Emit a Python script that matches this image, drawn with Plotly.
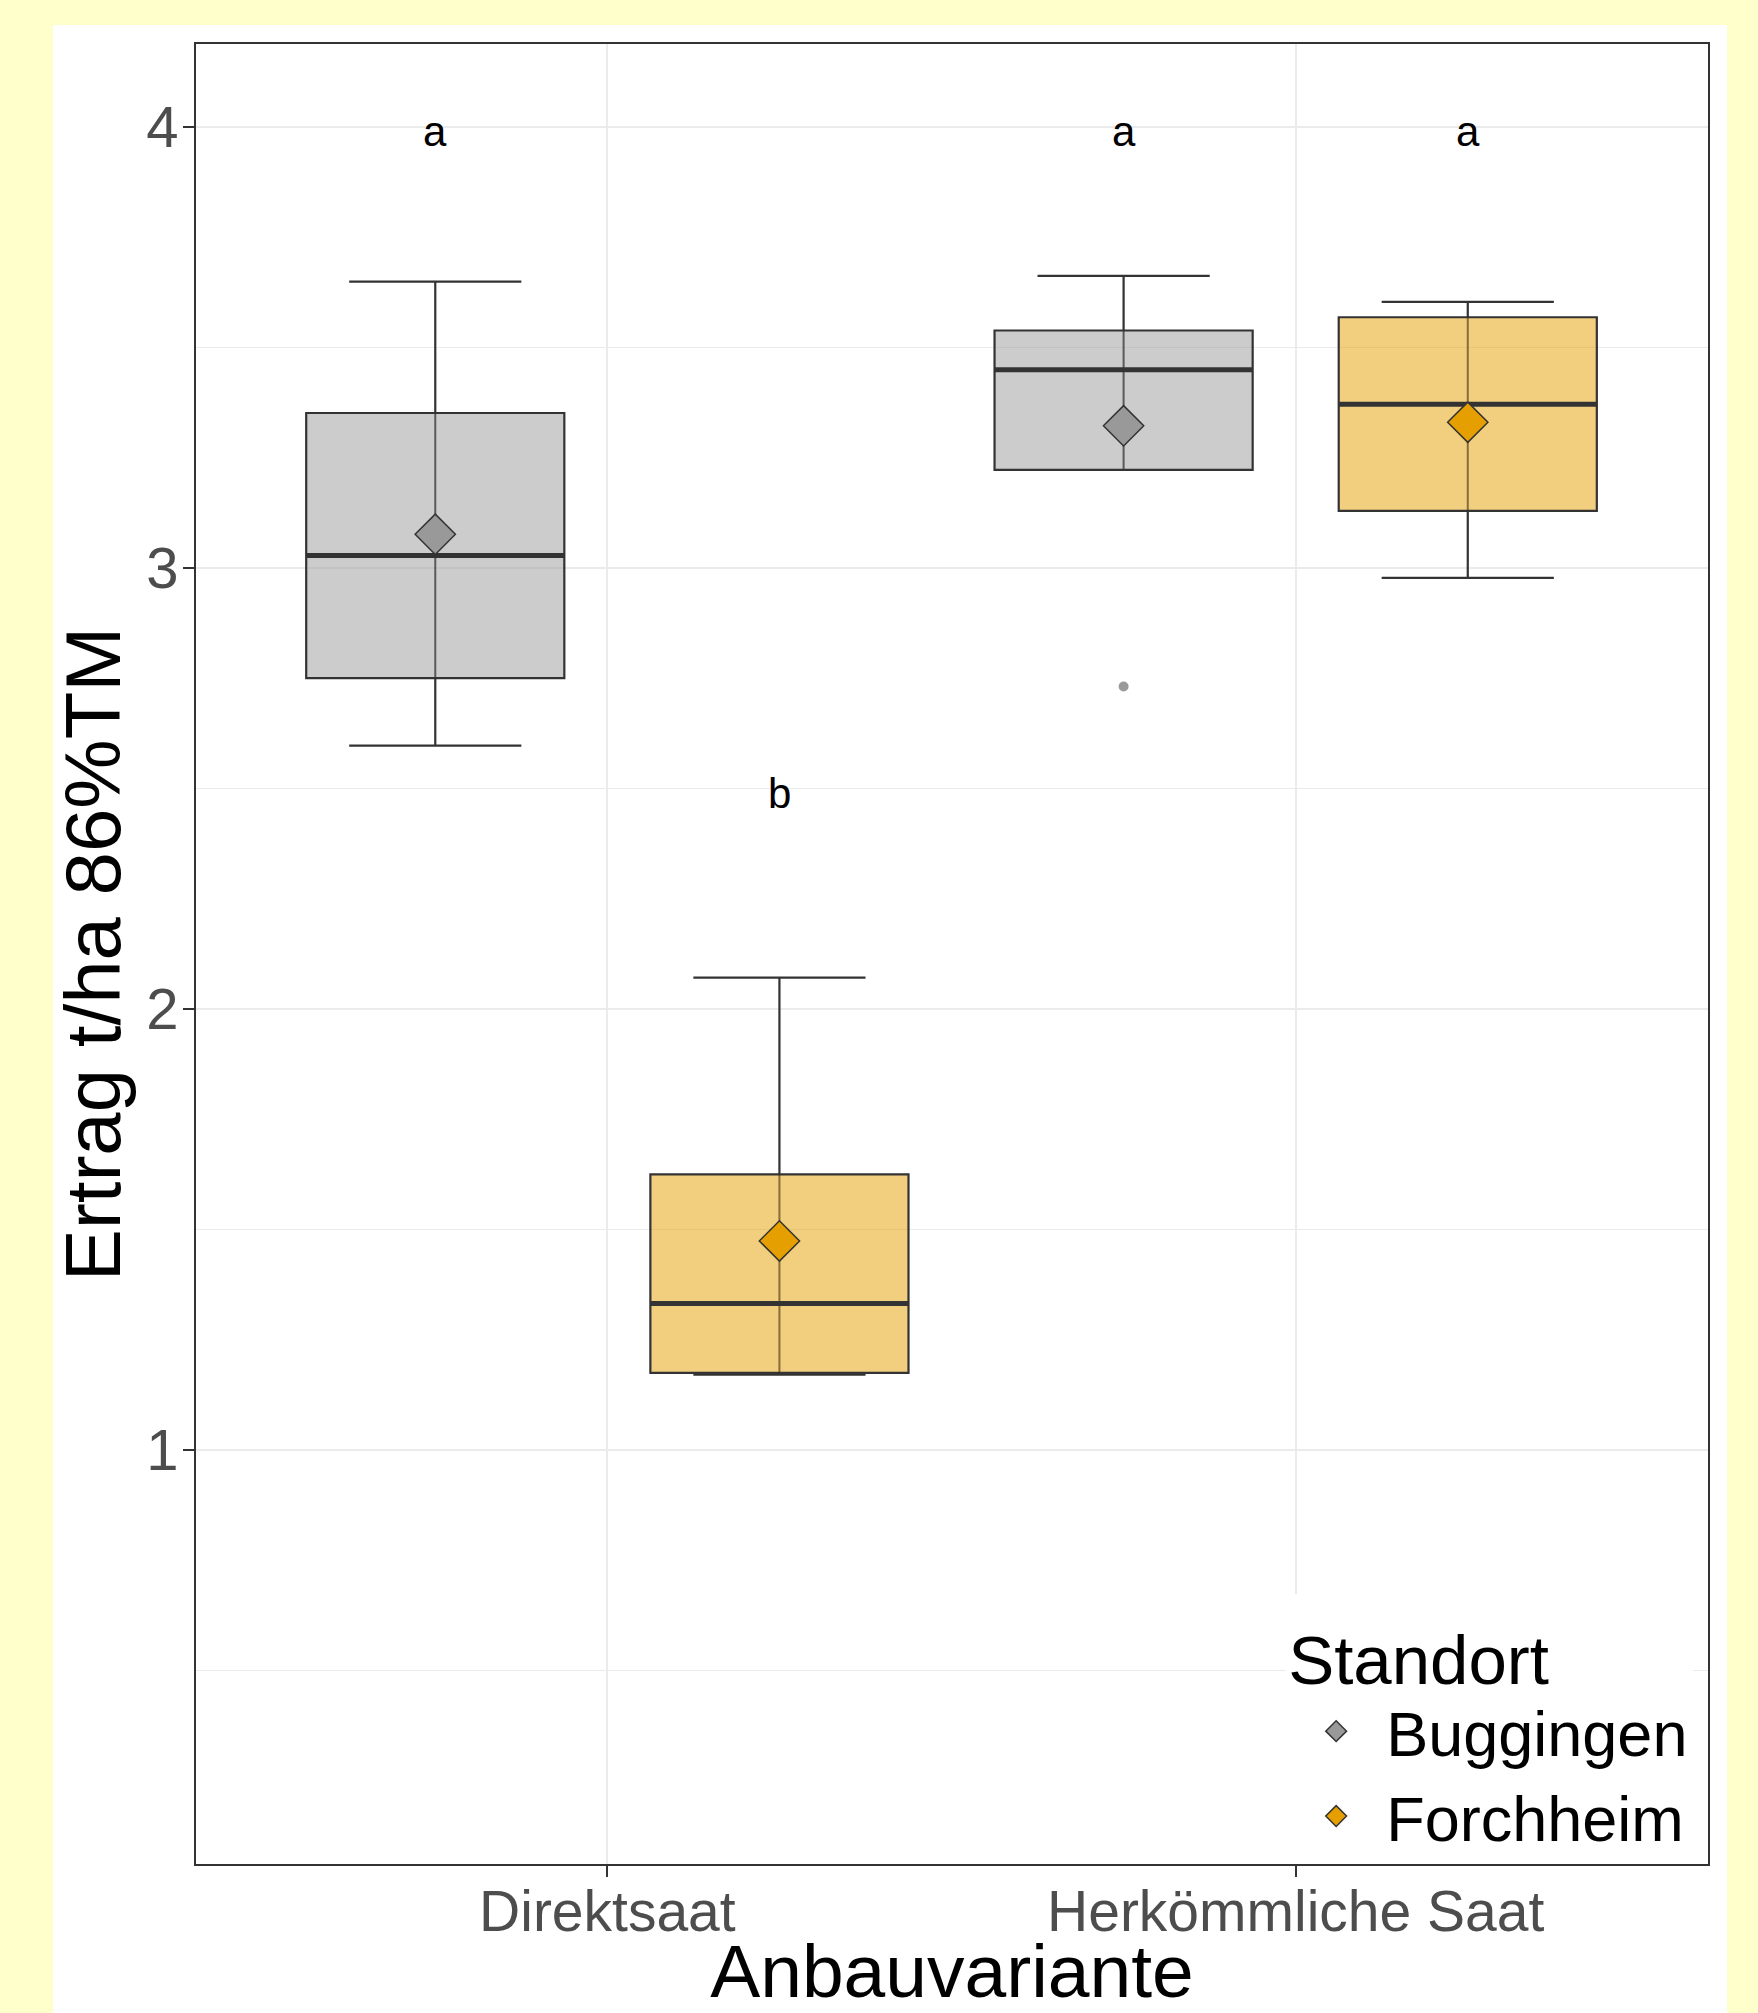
import plotly.graph_objects as go

# ---- data ----
anbau = ["Direktsaat", "Herkömmliche Saat"]
standorte = ["Buggingen", "Forchheim"]

bug_lower = [2.597, 3.222]
bug_q1 = [2.750, 3.222]
bug_median = [3.028, 3.449]
bug_q3 = [3.351, 3.538]
bug_upper = [3.649, 3.662]
bug_mean = [3.076, 3.322]

for_lower = [1.171, 2.977]
for_q1 = [1.175, 3.129]
for_median = [1.332, 3.371]
for_q3 = [1.625, 3.568]
for_upper = [2.071, 3.603]
for_mean = [1.474, 3.330]

outlier_standort = ["Buggingen"]
outlier_anbau = ["Herkömmliche Saat"]
outlier_value = [2.731]

letter_standort = ["Buggingen", "Forchheim", "Buggingen", "Forchheim"]
letter_anbau = ["Direktsaat", "Direktsaat", "Herkömmliche Saat", "Herkömmliche Saat"]
letter_text = ["a", "b", "a", "a"]
letter_y = [4.0, 2.5, 4.0, 4.0]

y_ticks = [1, 2, 3, 4]

# ---- styling ----
FONT = "Liberation Sans, Arial, sans-serif"
fill = {"Buggingen": "rgba(153,153,153,0.5)", "Forchheim": "rgba(230,159,0,0.5)"}
pt = {"Buggingen": "#999999", "Forchheim": "#E69F00"}
inner_line = {"Buggingen": "rgba(51,51,51,0.75)", "Forchheim": "rgba(60,45,10,0.6)"}
dodge = {"Buggingen": -0.25, "Forchheim": 0.25}
BOXW = 0.375

stats = {
    "Buggingen": dict(lo=bug_lower, q1=bug_q1, med=bug_median, q3=bug_q3, hi=bug_upper, mean=bug_mean),
    "Forchheim": dict(lo=for_lower, q1=for_q1, med=for_median, q3=for_q3, hi=for_upper, mean=for_mean),
}

def xpos(s, a):
    return anbau.index(a) + 1 + dodge[s]

fig = go.Figure()

for s in standorte:
    st = stats[s]
    xs = [xpos(s, a) for a in anbau]
    fig.add_trace(go.Box(
        x=xs, q1=st["q1"], median=st["med"], q3=st["q3"],
        lowerfence=st["lo"], upperfence=st["hi"],
        width=BOXW, whiskerwidth=0.667,
        fillcolor=fill[s], line=dict(color="#333333", width=2.2),
        boxpoints=False, showlegend=False, name=s,
    ))

for s in standorte:
    st = stats[s]
    for i, a in enumerate(anbau):
        x = xpos(s, a)
        # errorbar line running through the box
        fig.add_trace(go.Scatter(
            x=[x, x], y=[st["q1"][i], st["q3"][i]], mode="lines",
            line=dict(color=inner_line[s], width=2), showlegend=False, hoverinfo="skip",
        ))
        # thick median line
        fig.add_trace(go.Scatter(
            x=[x - BOXW / 2, x + BOXW / 2], y=[st["med"][i], st["med"][i]], mode="lines",
            line=dict(color="#333333", width=5), showlegend=False, hoverinfo="skip",
        ))

# outliers
for s in standorte:
    ox = [xpos(s, a) for ss, a in zip(outlier_standort, outlier_anbau) if ss == s]
    oy = [v for ss, v in zip(outlier_standort, outlier_value) if ss == s]
    if ox:
        fig.add_trace(go.Scatter(
            x=ox, y=oy, mode="markers",
            marker=dict(color="#999999", size=10, line=dict(width=0)),
            showlegend=False,
        ))

# means (also used as legend keys)
for s in standorte:
    st = stats[s]
    fig.add_trace(go.Scatter(
        x=[xpos(s, a) for a in anbau], y=st["mean"], mode="markers", name=s,
        marker=dict(symbol="diamond", size=31, color=pt[s], line=dict(color="#333333", width=1.5)),
    ))

# significance letters
annotations = [
    dict(x=xpos(s, a), y=yv, xref="x", yref="y", text=t, showarrow=False,
         yshift=-5, font=dict(family=FONT, size=42, color="black"))
    for s, a, t, yv in zip(letter_standort, letter_anbau, letter_text, letter_y)
]

fig.update_layout(
    width=1758, height=2013,
    margin=dict(l=196, r=50, t=44, b=149, autoexpand=False),
    paper_bgcolor="#FFFFCC", plot_bgcolor="white",
    font=dict(family=FONT),
    annotations=annotations,
    shapes=[dict(type="rect", xref="paper", yref="paper",
                 x0=-0.0946, x1=1.0126, y0=-0.09, y1=1.0104,
                 fillcolor="white", line=dict(width=0), layer="below")],
    legend=dict(
        title=dict(text="Standort", font=dict(size=69, color="black", family=FONT)),
        font=dict(size=63, color="black", family=FONT),
        x=0.721, y=0.0, xanchor="left", yanchor="bottom",
        bgcolor="white", itemsizing="trace", tracegroupgap=0, itemwidth=90,
    ),
    xaxis=dict(
        range=[0.4024, 2.599], tickmode="array", tickvals=[1, 2], ticktext=anbau,
        showgrid=True, gridcolor="#EBEBEB", gridwidth=2, zeroline=False,
        showline=True, mirror=True, linecolor="#333333", linewidth=2,
        ticks="outside", ticklen=11, tickwidth=2, tickcolor="#333333",
        tickfont=dict(size=57, color="#4D4D4D", family=FONT),
        ticklabelstandoff=-14,
        title=dict(text="Anbauvariante", font=dict(size=75, color="black", family=FONT), standoff=27),
        automargin=False,
    ),
    yaxis=dict(
        range=[0.0615, 4.1875], tickmode="array", tickvals=y_ticks,
        showgrid=True, gridcolor="#EBEBEB", gridwidth=2, zeroline=False,
        minor=dict(dtick=0.5, tick0=0, showgrid=True, gridcolor="#EBEBEB", gridwidth=1, ticks=""),
        showline=True, mirror=True, linecolor="#333333", linewidth=2,
        ticks="outside", ticklen=11, tickwidth=2, tickcolor="#333333",
        tickfont=dict(size=58, color="#4D4D4D", family=FONT),
        ticklabelstandoff=-7,
        title=dict(text="Ertrag t/ha 86%TM", font=dict(size=78, color="black", family=FONT), standoff=0),
        automargin=False,
    ),
)

fig.write_html("out.html", config={"displayModeBar": False},
               post_script="document.body.style.margin='0';")
